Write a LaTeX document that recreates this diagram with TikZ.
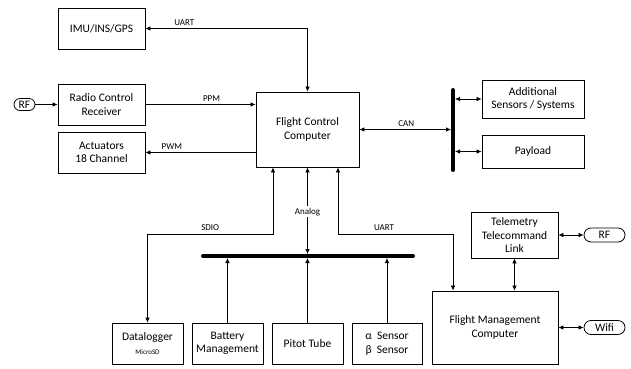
\documentclass[tikz,border=0pt]{standalone}
\usepackage{fontspec}
\setmainfont{Carlito}
\usetikzlibrary{arrows.meta,calc}

\tikzset{
  box/.style={draw, line width=0.8pt, align=center, inner sep=0pt, font=\fontsize{11.5}{13.5}\selectfont},
  term/.style={draw, line width=0.8pt, rounded corners=6pt, inner sep=0pt, font=\fontsize{11.5}{13}\selectfont},
  lbl/.style={font=\fontsize{9}{10}\selectfont, inner sep=1.5pt},
  link/.style={line width=0.7pt, -{Latex[length=5pt,width=4.5pt]}},
  dlink/.style={line width=0.7pt, {Latex[length=5pt,width=4.5pt]}-{Latex[length=5pt,width=4.5pt]}},
  bus/.style={line width=4pt, line cap=round},
}

\begin{document}
\begin{tikzpicture}[x=1pt, y=-1pt]
        \useasboundingbox (0,0) rectangle (631,368);
        % left column
        \node[box, minimum width=87pt, minimum height=41pt] (imu) at (101.5,28.5) {IMU/INS/GPS};
        \node[box, minimum width=87pt, minimum height=41pt] (rcr) at (101.5,104.5) {Radio Control\\Receiver};
        \node[box, minimum width=87pt, minimum height=41pt] (act) at (101.5,152.5) {Actuators\\18 Channel};
        \node[term, minimum width=21pt, minimum height=12pt] (rfl) at (24.5,104.5) {RF};
        % centre and can bus
        \node[box, minimum width=103pt, minimum height=75pt] (fcc) at (307.5,129.5) {Flight Control\\Computer};
        \coordinate (cant) at (453,90);
        \coordinate (canb) at (453,170);
        \node[box, minimum width=102pt, minimum height=38pt] (add) at (533,99) {Additional\\Sensors / Systems};
        \node[box, minimum width=102pt, minimum height=33pt] (pay) at (533,151.5) {Payload};
        % bottom row
        \coordinate (sbl) at (203,256);
        \coordinate (sbr) at (413,256);
        \node[box, minimum width=71pt, minimum height=41pt] (dlog) at (147.5,343.5) {Datalogger\\[1pt]{\fontsize{7}{8}\selectfont MicroSD}};
        \node[box, minimum width=71pt, minimum height=41pt] (bat) at (227.5,343.5) {Battery\\Management};
        \node[box, minimum width=71pt, minimum height=41pt] (pit) at (307.5,343.5) {Pitot Tube};
        \node[box, minimum width=70pt, minimum height=41pt] (ab) at (387,343.5) {α\ \ Sensor\\β\ \ Sensor};
        \node[box, minimum width=126pt, minimum height=73pt] (fmc) at (495,327.5) {Flight Management\\Computer};
        \node[box, minimum width=87pt, minimum height=46pt] (tel) at (514.5,235) {Telemetry\\Telecommand\\Link};
        \node[term, minimum width=41pt, minimum height=14pt, rounded corners=7pt] (rfr) at (604.5,235) {RF};
        \node[term, minimum width=41pt, minimum height=14pt, rounded corners=7pt] (wifi) at (604.5,327.5) {Wifi};

        % connections
        \draw[dlink] (imu.east) -| node[lbl, above=1.5pt, pos=0.12] {UART} (fcc.north);
        \draw[link] (rfl.east) -- (rcr.west);
        \draw[link] (rcr.east) -- node[lbl, above=1.5pt, pos=0.6] {PPM} (rcr.east -| fcc.west);
        \draw[link] (act.east -| fcc.west) -- node[lbl, above=1.5pt, pos=0.76] {PWM} (act.east);
        \draw[dlink, shorten >=2pt] (fcc.east) -- node[lbl, above=1.5pt] {CAN} (fcc.east -| cant);
        \draw[bus] (cant) -- (canb);
        \draw[dlink, shorten <=2pt] (add.west -| cant) -- (add.west);
        \draw[dlink, shorten <=2pt] (pay.west -| cant) -- (pay.west);

        \draw[dlink] ([xshift=-34.5pt]fcc.south) -- ++(0,67) -| node[lbl, above=1.5pt, pos=0.25] {SDIO} (dlog.north);
        \draw[dlink, shorten >=2pt] (fcc.south) -- node[lbl, fill=white] {Analog} (fcc.south |- sbl);
        \draw[bus] (sbl) -- (sbr);
        \draw[link, shorten >=2pt] (bat.north) -- (bat.north |- sbl);
        \draw[link, shorten >=2pt] (pit.north) -- (pit.north |- sbl);
        \draw[link, shorten >=2pt] (ab.north) -- (ab.north |- sbl);
        \draw[dlink] ([xshift=30.5pt]fcc.south) -- ++(0,67) -| node[lbl, above=1.5pt, pos=0.2] {UART} ([xshift=-42pt]fmc.north);
        \draw[dlink] (tel.south) -- (tel.south |- fmc.north);
        \draw[dlink] (tel.east) -- (tel.east -| rfr.west);
        \draw[dlink] (fmc.east) -- (fmc.east -| wifi.west);
      \end{tikzpicture}
\end{document}
